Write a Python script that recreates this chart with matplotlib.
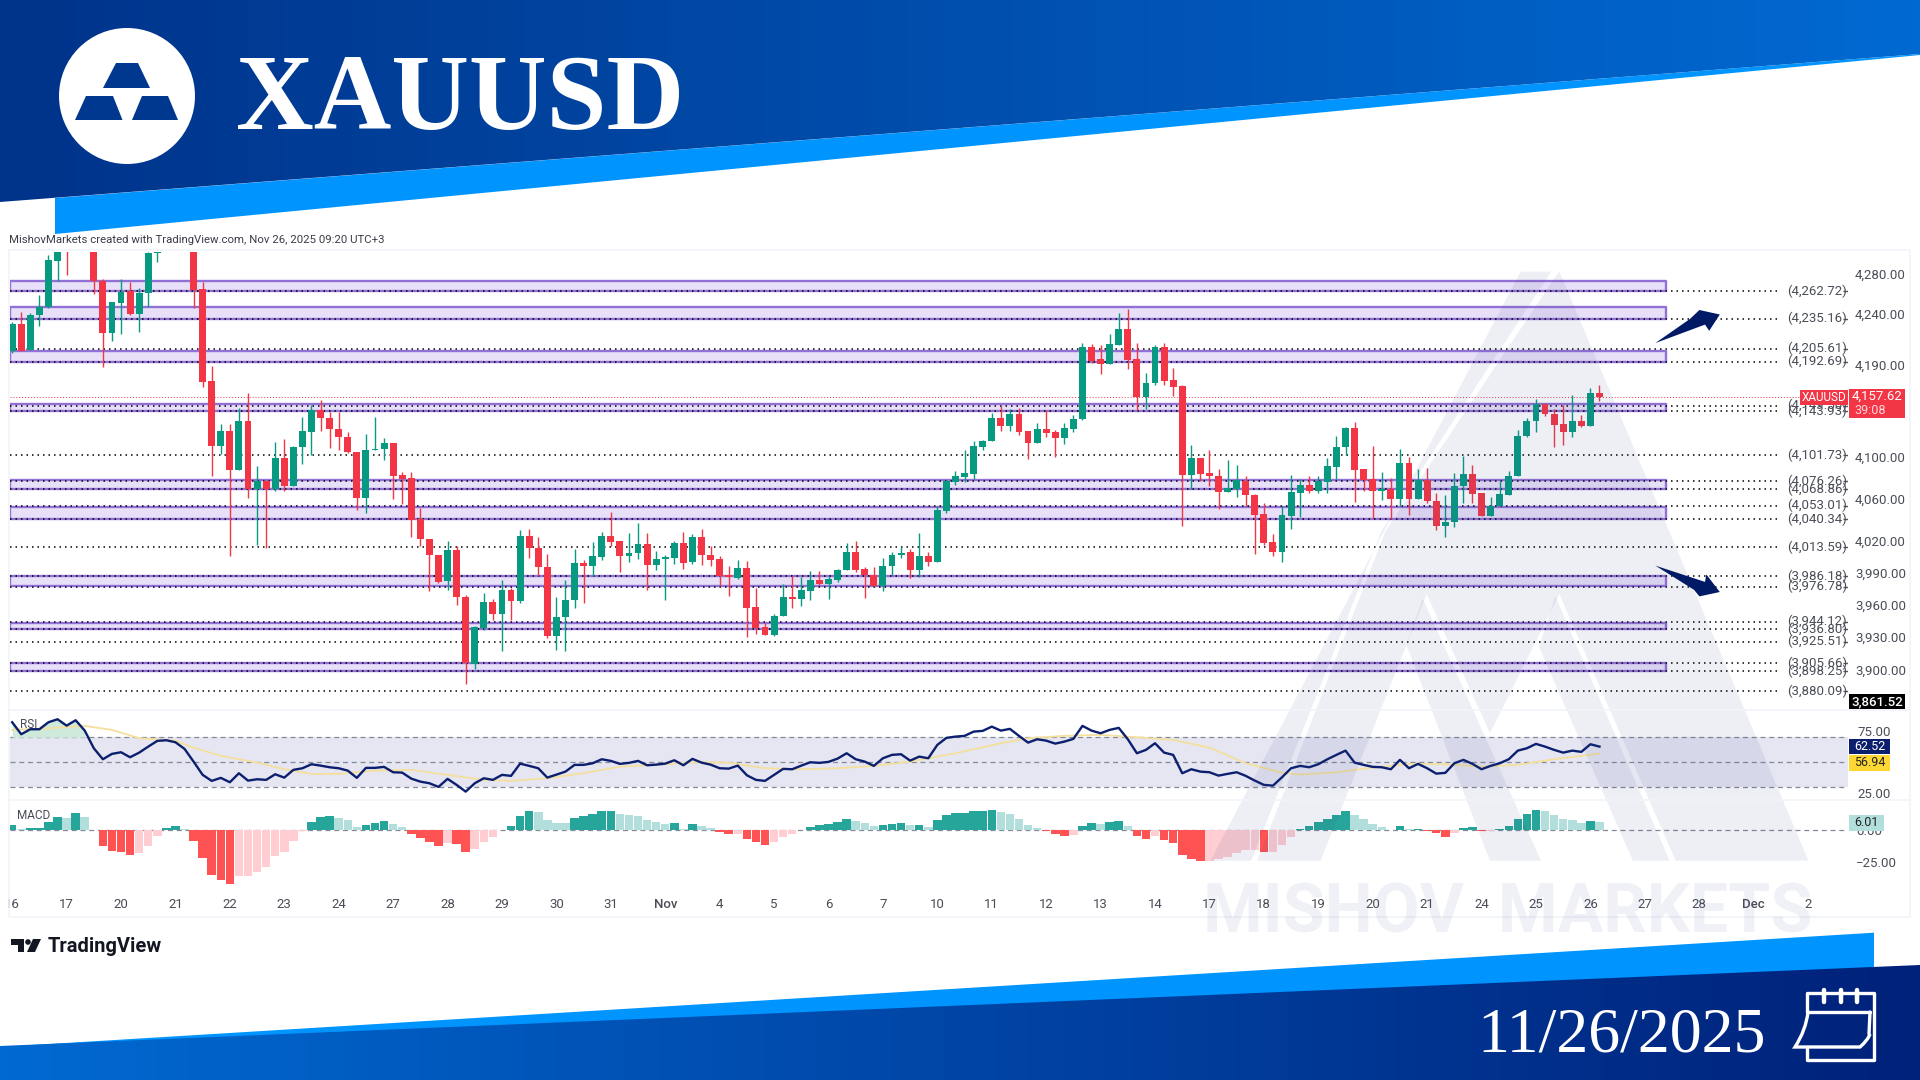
# -*- coding: utf-8 -*-
# %% imports

import numpy as np
from matplotlib import pyplot as plt
from matplotlib.colors import LinearSegmentedColormap
from matplotlib.patches import Polygon, Circle, PathPatch
from matplotlib.path import Path
from matplotlib.ticker import FixedLocator, NullLocator, FuncFormatter
from matplotlib.transforms import Bbox

plt.rcParams['font.family'] = ['Roboto', 'DejaVu Sans']

# %% data, 4h candles

opens = [4203.5, 4230, 4204, 4238.5, 4246.4, 4293.3, 4316, 4310, 4330, 4345,
         4272.8, 4221, 4251.1, 4262.8, 4239.8, 4260.4, 4300.7, 4304, 4318, 4335,
         4330, 4264.5, 4173.7, 4110.8, 4124.9, 4087.3, 4135, 4068.8, 4076.2, 4069.4,
         4098.5, 4072.3, 4109.8, 4124.3, 4145, 4137.9, 4126.5, 4119.5, 4105, 4060.8,
         4106.3, 4107.2, 4113, 4082.5, 4079.3, 4040.2, 4021.9, 4006.5, 3981.5, 4011.3,
         3966.9, 3905.3, 3937.8, 3962.5, 3951.3, 3973.7, 3962.9, 4024.5, 4012.8, 3995,
         3930.5, 3948, 3963.8, 3998.7, 3995.6, 4004.4, 4024.5, 4019.1, 4005.6, 4008.1,
         4016.6, 3997.1, 4002.2, 4003.4, 4017.5, 3999.3, 4022.9, 4006.5, 4002.5, 3987.1,
         3984.7, 3994, 3957.3, 3939.1, 3932, 3949, 3966.9, 3965, 3973, 3983.1,
         3979.4, 3983.1, 3991.8, 4008.7, 3993.4, 3987.8, 3976.9, 3996.2, 4006.5, 4008.7,
         3992.5, 4005.6, 3999.9, 4048.2, 4075.7, 4080.3, 4083.2, 4109.2, 4115.6, 4137.9,
         4129.8, 4141.5, 4125.3, 4113, 4126.5, 4124.3, 4117.8, 4126.9, 4136.3, 4207.5,
         4194.9, 4190, 4209.4, 4225.2, 4194.9, 4157.7, 4171.4, 4207.5, 4174.6, 4168.8,
         4082.5, 4098.5, 4084.1, 4081.9, 4066.3, 4069.4, 4077.1, 4063.4, 4045, 4018.5,
         4008.7, 4043.4, 4065.6, 4072.6, 4067.5, 4075.5, 4090.5, 4108.9, 4127.8, 4088,
         4078.4, 4067.5, 4068.8, 4059.9, 4093.7, 4059.9, 4077.8, 4057.7, 4033.3, 4037.1,
         4071.4, 4083.2, 4065, 4043.5, 4052.3, 4063.4, 4081, 4120, 4134.7, 4151.2,
         4141.1, 4131.4, 4124.3, 4135, 4130, 4161.6]

highs = [4232.2, 4242.2, 4241.2, 4258.8, 4299, 4312, 4322, 4338, 4352, 4350,
         4274.5, 4251.5, 4274.5, 4272.2, 4265.5, 4302.4, 4306, 4325, 4340, 4345,
         4335, 4272.2, 4188.7, 4131.4, 4131.4, 4147, 4161.6, 4091.2, 4077.8, 4114,
         4116.9, 4110, 4138.2, 4150.2, 4155, 4143.7, 4143, 4124.3, 4105, 4122,
         4138.9, 4117.8, 4113, 4085, 4084.8, 4050.7, 4021.9, 4006.5, 4020, 4014.4,
         3968.4, 3940.3, 3970.6, 3965, 3983.1, 3975.3, 4030.1, 4031, 4023.2, 4007.5,
         3966.9, 3983.1, 4011.9, 4001.8, 4018.2, 4027.6, 4046.6, 4019.1, 4027, 4036.4,
         4027, 4010.3, 4006.5, 4019.1, 4027.9, 4026.3, 4031, 4015.3, 4005, 3996.2,
         4001.2, 4000.3, 3975.3, 3942.8, 3951.4, 3979, 3986.8, 3985.6, 3990.9, 3990.9,
         3986.2, 3993, 4017.5, 4020, 3995, 3995, 4003.4, 4008.7, 4013.7, 4011.9,
         4027, 4008.7, 4052.3, 4077.2, 4086.7, 4106, 4115.6, 4116.2, 4142.1, 4149.5,
         4146, 4147, 4125.3, 4132.4, 4145.3, 4125.9, 4133, 4140.5, 4211.4, 4210,
         4209, 4219.6, 4240.5, 4244.8, 4210.7, 4181.2, 4209.1, 4210.7, 4186.7, 4169.7,
         4111.4, 4099.2, 4106.6, 4088.3, 4096.9, 4092.1, 4081, 4064, 4055.5, 4026.3,
         4052.3, 4082, 4078.4, 4081.9, 4081, 4098.5, 4120.1, 4129.1, 4133.3, 4088,
         4110.4, 4085.7, 4079.3, 4107.2, 4100.1, 4088, 4089.5, 4065, 4063.4, 4084.1,
         4100.8, 4092.1, 4065, 4061.8, 4077.1, 4086.7, 4125.9, 4137.2, 4156, 4152.5,
         4146, 4150.2, 4160, 4140.5, 4166.5, 4169.7]

lows = [4200.9, 4203.5, 4204, 4228.2, 4246, 4273, 4279, 4305, 4325, 4259.8,
        4187.7, 4213.4, 4220, 4238.8, 4222.3, 4247.1, 4292.3, 4303, 4312, 4322,
        4245.5, 4168.1, 4081, 4102.7, 4005.6, 4087, 4060.2, 4016, 4013, 4067.5,
        4067.5, 4072, 4092.7, 4101.7, 4125.3, 4108.2, 4106.6, 4104, 4049.1, 4046,
        4106, 4097, 4059.3, 4054.8, 4023.8, 4014.4, 3972.2, 3980, 3973.7, 3959.8,
        3887, 3900.4, 3936.6, 3945.8, 3916.6, 3945.8, 3961.3, 4003.4, 3986.2, 3928.9,
        3917.6, 3916.6, 3956.7, 3961.3, 3986.8, 4001.8, 4014.4, 3990, 3999.3, 4002.5,
        3973.7, 3991.8, 3963.8, 3998.1, 3993.4, 3998.1, 3996.5, 3996.2, 3976.9, 3967.5,
        3983.7, 3929.8, 3932.9, 3932, 3930.5, 3949, 3956.7, 3958.2, 3964.4, 3978.4,
        3965.3, 3981, 3991.8, 3990.3, 3966.3, 3976.9, 3972.2, 3987.8, 4003.4, 3984.7,
        3985.6, 3995.6, 3999.9, 4046, 4073, 4075.4, 4078.4, 4106.6, 4115.6, 4125.3,
        4125.3, 4121.1, 4097.9, 4113, 4118.8, 4100.1, 4112.4, 4123.6, 4135.6, 4191,
        4180.5, 4190, 4208.8, 4185.4, 4145.3, 4146.3, 4169.7, 4169.7, 4159, 4033.3,
        4068.8, 4077.1, 4072, 4049.8, 4066.3, 4061.8, 4052.9, 4007.2, 4016, 4005,
        3999.3, 4030.7, 4042.1, 4065.6, 4065, 4065, 4078.4, 4101.7, 4056.1, 4066.6,
        4041.2, 4058.6, 4040.2, 4053, 4044.4, 4059.3, 4055.5, 4030.1, 4023.2, 4032.6,
        4055.5, 4055.5, 4043.5, 4042.8, 4052.3, 4063.4, 4081, 4119.5, 4123.6, 4139.5,
        4109.8, 4111.4, 4119.5, 4128.5, 4130, 4154]

closes = [4229.9, 4203.5, 4239.2, 4247.1, 4294, 4306, 4306, 4330, 4345, 4272.8,
          4221.3, 4251.5, 4262.1, 4239.5, 4261.1, 4300.7, 4304, 4318, 4335, 4330,
          4263.8, 4173, 4110.8, 4124.9, 4087.3, 4135, 4068.8, 4076.2, 4069.4, 4098.5,
          4072, 4109.8, 4124.9, 4145, 4137.2, 4126.5, 4119.1, 4104.3, 4060.8, 4106.6,
          4107.6, 4113, 4081.9, 4078.4, 4039.6, 4021.2, 4006.5, 3981.2, 4011.3, 3966.6,
          3905.9, 3939.1, 3962.2, 3951.3, 3973.7, 3962.9, 4024.5, 4012.5, 3994.6, 3930.5,
          3948.3, 3964.4, 3998.7, 3995.6, 4005, 4024.5, 4018.8, 4005.6, 4008.4, 4016.6,
          3997.1, 4002.5, 4004, 4017.5, 3998.7, 4022.9, 4005.9, 4001.8, 3986.2, 3985.6,
          3994, 3956.7, 3937.8, 3932, 3949.6, 3966.9, 3964.7, 3973.7, 3983.1, 3979.4,
          3984, 3992.5, 4008.7, 3992.5, 3987.8, 3977.5, 3996.2, 4006.5, 4008.4, 3992.5,
          4005.6, 3999.9, 4049.1, 4076.2, 4081, 4084.1, 4110.4, 4115.6, 4137.9, 4129.8,
          4141.1, 4124.3, 4113, 4126.5, 4123.3, 4117.8, 4127.5, 4136.6, 4207.5, 4193.6,
          4190.3, 4210, 4225.2, 4194.3, 4157.7, 4172, 4207.5, 4174, 4168.1, 4082.5,
          4098.5, 4083.5, 4081.6, 4066.3, 4070.4, 4077.8, 4062.8, 4044.4, 4017.5, 4008.7,
          4044.4, 4066, 4073, 4067.5, 4076.2, 4091.2, 4109.2, 4127.8, 4087.3, 4077.8,
          4067.5, 4068.8, 4059.9, 4093.7, 4059.9, 4077.8, 4057.1, 4033.3, 4037.7, 4072,
          4083.2, 4064.4, 4043.5, 4052.9, 4064, 4081, 4120.4, 4135, 4151.2, 4141.1,
          4130.8, 4124.3, 4135, 4130, 4161.6, 4157.6]

# horizontal levels and zones
levels = [4262.72, 4235.16, 4205.61, 4192.69, 4149.5, 4143.93, 4101.73, 4076.26, 4068.86,
          4053.01, 4040.34, 4013.59, 3986.18, 3976.78, 3944.12, 3936.80, 3925.51,
          3905.66, 3898.25, 3880.09]
zone_top = [4272.8, 4246.8, 4203.5, 4151, 4077.8, 4052, 3986.2, 3943, 3905.7]
zone_bottom = [4262.7, 4235.2, 4192.7, 4143.9, 4068.9, 4040.3, 3976.8, 3936.8, 3898.3]
price_ticks = [4280, 4240, 4190, 4100, 4060, 4020, 3990, 3960, 3930, 3900]
last_price = 4157.62

# RSI
rsi = [82.0, 72.4, 76.4, 76.4, 82, 84.4, 79.3, 83.6, 75.3, 61.2, 52.4, 56.7, 58, 54, 57.7,
       62.5, 67.1, 67.6, 66, 60.7, 50.5, 39.9, 35.1, 37.5, 34, 41.2, 35.3, 36.4, 35.9, 40.4,
       37.7, 43.9, 45.2, 48.4, 47.3, 46, 45.2, 43.3, 37.5, 45.5, 45.5, 46.3, 42, 41.7, 36.9,
       34.5, 33.2, 30.3, 36.7, 31.9, 26.5, 33.2, 37.2, 35.9, 39.9, 39.1, 48.9, 47.1, 45.2,
       37.7, 40.1, 42.5, 47.9, 47.9, 49.2, 52.4, 51.1, 48.7, 49.5, 51.1, 47.6, 48.1, 48.9,
       51.6, 47.6, 52.7, 49.7, 48.1, 45.2, 44.9, 47.3, 39.6, 35.9, 35.1, 39.9, 44.7, 44.4,
       47.3, 50, 49.5, 50.3, 52.9, 57.2, 52.4, 50.5, 47.1, 53.2, 55.9, 56.4, 51.3, 54.5,
       53.2, 63.9, 69.5, 70.5, 71.1, 74.5, 75.1, 78.5, 75.3, 76.7, 71.1, 65.7, 68.4, 67.3,
       64.9, 66.5, 68.7, 79.1, 75.3, 73.2, 75.9, 77.5, 68.4, 57.2, 59.9, 65.2, 57.7, 55.9,
       41.2, 44.4, 42.5, 42, 39.3, 40.7, 42, 39.1, 35.3, 31.9, 31.3, 38, 45.2, 47.1, 46,
       48.4, 52.4, 55.9, 59.3, 49.7, 47.9, 46.3, 46, 44.4, 51.9, 45.2, 48.7, 45.2, 40.9,
       41.5, 49.2, 51.9, 48.7, 44.4, 47.1, 49.2, 52.4, 59.3, 61.2, 64.7, 62.5, 59.9, 57.7,
       59.3, 58.3, 64.4, 62.52]
rsi_ma_bar = [0, 4, 8, 11, 14, 18, 20, 23, 27, 30, 33, 36, 40, 44, 48, 52, 55, 59, 63, 67, 71, 75,
              79, 83, 87, 91, 95, 99, 104, 109, 112, 116, 120, 124, 128, 132, 136, 140, 142,
              146, 150, 154, 158, 162, 166, 170, 175]
rsi_ma = [75.9, 77.2, 79.1, 75.9, 69.2, 67.3, 61.7, 55.1, 49.7, 44.4, 40.7, 40.7, 43.3, 43.9,
          39.9, 35.9, 35.1, 37.2, 41.2, 46.5, 47.9, 50, 49.7, 45.2, 44.4, 45.2, 47.1, 50.5,
          57.2, 65.2, 69.2, 71.1, 71.9, 70, 67.9, 61.7, 49.2, 41.7, 40.1, 42, 45.7, 48.7,
          48.4, 46.5, 47.9, 52.4, 56.94]

# MACD histogram
macd_hist = [3.9, 0.5, 1.5, 1.5, 6.2, 10.3, 9.3, 13.1, 10.3, -0.1, -12.4, -16.2, -16.8, -19.1,
             -17.5, -12.4, -4.6, 1.5, 3.1, 0.5, -8.8, -21.6, -34.8, -38.7, -41.8, -35.6, -35.6,
             -32.7, -28.9, -20.1, -16.8, -8.5, -0.8, 5.9, 9.8, 10.6, 9, 7.7, 2.3, 3.6, 5.4,
             6.7, 4.4, 2.6, -3.1, -6.4, -9, -12.4, -10.3, -10.8, -16.8, -14.7, -9, -5.7, -0.3,
             3.1, 11.1, 14.7, 13.9, 7.7, 5.4, 5.2, 9.5, 11.1, 12.1, 14.7, 14.7, 12.4, 11.3,
             10.6, 7.7, 6.2, 4.9, 5.4, 0.5, 4.6, 3.1, 1.5, -1.3, -2.8, -2.8, -7.2, -9.3, -11.6,
             -9.3, -5.7, -3.4, -0.3, 2.6, 3.9, 4.6, 6.4, 8.5, 6.7, 5.7, 3.1, 3.6, 4.6, 5.2, 3.9,
             3.9, 2.3, 7.7, 11.3, 13.1, 13.1, 14.7, 14.7, 15.5, 13.9, 12.4, 8.2, 3.6, 1.5, -1,
             -3.4, -4.4, -4.1, 3.1, 5.2, 4.6, 6.2, 6.7, 3.1, -4.4, -7.2, -4.6, -8, -10.3, -19.6,
             -22.7, -24, -23.7, -22.7, -20.6, -17.5, -15.5, -15.5, -17, -16.8, -11.3, -5.2, 0.8,
             2.8, 5.9, 8.8, 11.6, 14.7, 11.6, 8.2, 4.6, 2.1, 0, 2.8, 0.8, 0.8, -0.8, -2.1, -5.7,
             -2.1, 1.5, 2.3, -0.5, -0.5, 0.8, 3.1, 8.8, 12.4, 15.5, 14.4, 11.3, 8.8, 8, 5.4, 7,
             6.01]

# time axis, one label every 6 bars
time_labels = ['16', '17', '20', '21', '22', '23', '24', '27', '28', '29', '30', '31', 'Nov',
               '4', '5', '6', '7', '10', '11', '12', '13', '14', '17', '18', '19', '20', '21',
               '24', '25', '26', '27', '28', 'Dec', '2']
bars_per_label = 6

# %% config

W, H = 1920, 1080
green, red = '#089981', '#f23645'
grid_col = '#f0f3fa'
text_col = '#4a4d57'
xlim = (-0.24, 202.4)   # 9.07 px per bar


def pane(y_top, y_bottom):
    # axes from pixel rows, x range is the same for every pane
    a = fig.add_axes([10 / W, 1 - y_bottom / H, (1848 - 10) / W, (y_bottom - y_top) / H])
    a.patch.set_alpha(0)
    for s in a.spines.values():
        s.set_visible(False)
    a.set_xlim(*xlim)
    a.tick_params(length=0, labelsize=9.5, labelcolor=text_col)
    a.yaxis.tick_right()
    a.set_xticks([])
    return a


fig = plt.figure(figsize=(W / 100, H / 100), dpi=100, facecolor='white')

# %% price pane

x = np.arange(len(opens))
o, h, l, c = map(np.array, (opens, highs, lows, closes))
up = c >= o
cols = np.where(up, green, red)

ax = pane(252, 710)
ax.set_yscale('log')
ax.set_ylim(3863, 4302.1)
ax.yaxis.set_major_locator(FixedLocator(price_ticks))
ax.yaxis.set_minor_locator(NullLocator())
ax.yaxis.set_major_formatter(FuncFormatter(lambda v, p: f'{v:,.2f}'))
ax.tick_params(axis='y', pad=5)

for t, b in zip(zone_top, zone_bottom):
    ax.fill_between([xlim[0], 182.3], b, t, facecolor='#e8e0f8', edgecolor='#9271d6', lw=1.7, zorder=1)

ax.hlines(levels, xlim[0], 194.9, colors='black', lw=1.1, linestyles=(0, (1, 2.6)), zorder=2)
ax.hlines(levels, 201.9, xlim[1], colors='#555555', lw=1, zorder=2)
for lv in levels:
    ax.text(199, lv, f'({lv:,.2f})', ha='center', va='center', fontsize=9.5, color=text_col, zorder=2)
ax.axhline(last_price, color=red, lw=0.7, ls=(0, (1, 2)), zorder=2)

ax.vlines(x, l, h, colors=cols, lw=1, zorder=3)
ax.bar(x, np.abs(c - o), bottom=np.minimum(o, c), width=0.76, color=cols, lw=0, zorder=4)

# %% RSI pane

ax_rsi = pane(710, 800)
ax_rsi.set_ylim(19.8, 91.8)
ax_rsi.set_yticks([75, 25])
ax_rsi.yaxis.set_major_formatter(FuncFormatter(lambda v, p: f'{v:.2f}'))
ax_rsi.tick_params(axis='y', pad=7)
ax_rsi.axhspan(30, 70, color='#e5e6f2', lw=0, zorder=1)
for lv in (70, 50, 30):
    ax_rsi.axhline(lv, color='#858896', lw=0.9, ls=(0, (4, 3)), zorder=2)
rsi_arr = np.array(rsi)
ax_rsi.fill_between(x[:10], 70, rsi_arr[:10], where=rsi_arr[:10] > 70, color='#cfeadb', lw=0, zorder=2)
ax_rsi.plot(rsi_ma_bar, rsi_ma, color='#f4df9c', lw=1.3, zorder=3)
ax_rsi.plot(range(len(rsi)), rsi, color='#0b1f6e', lw=1.7, zorder=4)
ax_rsi.text(0.9, 80.5, 'RSI', fontsize=8.5, color=text_col, va='center', zorder=5)

# %% MACD pane

ax_macd = pane(800, 890)
ax_macd.set_ylim(-46.4, 23.2)
ax_macd.set_yticks([0, -25])
ax_macd.yaxis.set_major_formatter(FuncFormatter(lambda v, p: f'{v:.2f}'.replace('-', '\u2212')))
ax_macd.tick_params(axis='y', pad=6)

hist = np.array(macd_hist)
prev = np.r_[hist[0] - 1, hist[:-1]]
hist_cols = []
for v, p in zip(hist, prev):
    if v >= 0:
        hist_cols.append('#26a69a' if v >= p else '#b2dfdb')
    else:
        hist_cols.append('#ff5252' if v < p else '#ffcdd2')
ax_macd.axhline(0, color='#858896', lw=0.9, ls=(0, (4, 3)), zorder=1)
ax_macd.bar(range(len(hist)), hist, width=0.94, color=hist_cols, lw=0, zorder=2)
ax_macd.text(0.55, 11.5, 'MACD', fontsize=8.5, color=text_col, va='center', zorder=5)

ax_macd.set_xticks(np.arange(len(time_labels)) * bars_per_label)
ax_macd.set_xticklabels(time_labels, fontsize=9.5, color=text_col)
ax_macd.tick_params(axis='x', pad=6)
for lab, name in zip(ax_macd.get_xticklabels(), time_labels):
    if not name.isdigit():
        lab.set_fontweight('medium')
# the first date label is cut by the pane edge
first = ax_macd.get_xticklabels()[0]
first.set_clip_box(Bbox([[8, 0], [W, H]]))
first.set_clip_on(True)

# %% overlay: watermark, banners, tags

ov = fig.add_axes([0, 0, 1, 1], zorder=10)
ov.patch.set_alpha(0)
ov.axis('off')

wm = dict(facecolor='#3f4f8f', alpha=0.09, lw=0)
ov.add_patch(Polygon([(1520.6, 271.7), (1551.2, 271.7), (1381.8, 530.3), (1251.2, 860.7), (1210.4, 860.7)], **wm))
ov.add_patch(Polygon([(1555.3, 277), (1559.4, 271.7), (1808.4, 860.7), (1675.7, 860.7), (1559.4, 594.2),
                      (1490, 733), (1426.7, 594.2), (1320.6, 860.7), (1257.3, 860.7), (1385.9, 530.3)], **wm))
ov.add_patch(Polygon([(1422.7, 598.6), (1541, 860.7), (1490, 860.7), (1406.3, 644.9)], **wm))
ov.add_patch(Polygon([(1555.3, 596.4), (1669.6, 860.7), (1632.9, 860.7), (1539, 647)], **wm))
ov.text(1508, 914, 'MISHOV  MARKETS', fontsize=49, fontweight='bold', color='#3f4f8f', alpha=0.08,
        ha='center', va='center')


def gradient(points, left, right):
    cmap = LinearSegmentedColormap.from_list('g', [left, right])
    im = ov.imshow(np.linspace(0, 1, 256).reshape(1, -1), cmap=cmap, aspect='auto',
                   extent=(0, W, H, 0), zorder=3)
    im.set_clip_path(Polygon(points, transform=ov.transData))


# top banner
ov.add_patch(Polygon([(55, 198), (1920, 54), (1920, 55), (55, 234)], facecolor='#0094ff', lw=0, zorder=2))
gradient([(0, 0), (W, 0), (W, 54), (0, 202)], '#01338a', '#006ad2')
ov.add_patch(Circle((127, 96), 68, facecolor='white', lw=0, zorder=4))
for pts in ([(116, 63), (138, 63), (150, 88), (103, 88)],
            [(86, 96), (113, 96), (122.5, 120), (75, 120)],
            [(142, 96), (168, 96), (178, 120), (132, 120)]):
    ov.add_patch(Polygon(pts, facecolor='#01388f', lw=0, zorder=5))
ov.text(236, 129, 'XAUUSD', family='Liberation Serif', fontweight='bold', fontsize=77.5, color='white',
        ha='left', va='baseline', zorder=5)

# bottom banner
ov.add_patch(Polygon([(0, 1047), (1874, 932.7), (1874, 970), (0, 1047)], facecolor='#0094ff', lw=0, zorder=2))
gradient([(0, 1046), (W, 965), (W, H), (0, H)], '#006ad2', '#00217a')
ov.text(1477, 1052, '11/26/2025', family='Liberation Serif', fontsize=46, color='white',
        ha='left', va='baseline', zorder=5)

# calendar icon
cal = dict(color='white', lw=2.4, solid_capstyle='round', solid_joinstyle='round', zorder=5)
ov.plot([1807, 1807, 1874, 1874, 1807, 1807], [1048, 1060, 1060, 993, 993, 1012], **cal)
ov.plot([1807, 1870], [1012, 1012], **cal)
ov.plot([1870, 1869], [1012, 1034], **cal)
for xr in (1824, 1840.7, 1857):
    ov.plot([xr, xr], [990, 1002], color='white', lw=3.2, solid_capstyle='round', zorder=5)
icon = Path([(1808, 1012), (1806, 1030), (1795, 1047), (1860, 1047), (1868, 1040), (1870, 1034)],
            [Path.MOVETO, Path.CURVE3, Path.CURVE3, Path.LINETO, Path.CURVE3, Path.CURVE3])
ov.add_patch(PathPatch(icon, facecolor='none', edgecolor='white', lw=2.4, zorder=5))

# frame of the screenshot
ov.plot([9, 1910, 1910, 9, 9], [250, 250, 917, 917, 250], color=grid_col, lw=1.2, zorder=1)
ov.plot([9, 1910], [710, 710], color=grid_col, lw=1.2, zorder=1)
ov.plot([9, 1910], [800, 800], color=grid_col, lw=1.2, zorder=1)

ov.text(9, 240, 'MishovMarkets created with TradingView.com, Nov 26, 2025 09:20 UTC+3', fontsize=8.2,
        color='#3a3d47', ha='left', va='center', zorder=5)

# arrows
navy = '#001a66'
ov.add_patch(Polygon([(1655.3, 343.1), (1705, 324.6), (1709.2, 330.8), (1719.8, 314.5), (1699.4, 310),
                      (1690, 318.9)], facecolor=navy, lw=0, zorder=6))
ov.add_patch(Polygon([(1655.3, 565.6), (1705, 581.9), (1706.3, 574.4), (1719.8, 592), (1699.4, 596.4),
                      (1694, 589.8)], facecolor=navy, lw=0, zorder=6))


# tags on the scale
def tag(x0, x1, y0, y1, fc, txt, tc='white', fs=9.5, weight='normal'):
    ov.add_patch(Polygon([(x0, y0), (x1, y0), (x1, y1), (x0, y1)], facecolor=fc, lw=0, zorder=6))
    ov.text((x0 + x1) / 2, (y0 + y1) / 2, txt, color=tc, fontsize=fs, fontweight=weight, ha='center',
            va='center', zorder=7)


tag(1800, 1848, 390, 405, red, 'XAUUSD', fs=8.5)
tag(1849, 1905, 389, 418, red, '', fs=9.5)
ov.text(1877, 396.5, f'{last_price:,.2f}', color='white', fontsize=9.5, ha='center', va='center', zorder=7)
ov.text(1870, 410, '39:08', color='#ffd6da', fontsize=9, ha='center', va='center', zorder=7)
tag(1849, 1905, 694, 709, 'black', '3,861.52', weight='medium')
tag(1849, 1890, 739, 754, '#0b1f6e', '62.52', fs=9)
tag(1849, 1890, 755, 771, '#fdd835', '56.94', tc='#222222', fs=9)
tag(1849, 1884, 815, 831, '#b2dfdb', f'{macd_hist[-1]:.2f}', tc='#222222', fs=9)

# TradingView logo
lg = dict(facecolor='#131722', lw=0, zorder=5)
ov.add_patch(Polygon([(11, 939), (24, 939), (24, 952), (17.5, 952), (17.5, 945), (11, 945)], **lg))
ov.add_patch(Circle((28, 942), 2.8, **lg))
ov.add_patch(Polygon([(33, 939), (41, 939), (35, 952), (27, 952)], **lg))
ov.text(48, 946, 'TradingView', fontsize=14.5, fontweight='bold', color='#131722', ha='left', va='center', zorder=5)

ov.set_xlim(0, W)
ov.set_ylim(H, 0)

plt.savefig('out.png', dpi=100)
